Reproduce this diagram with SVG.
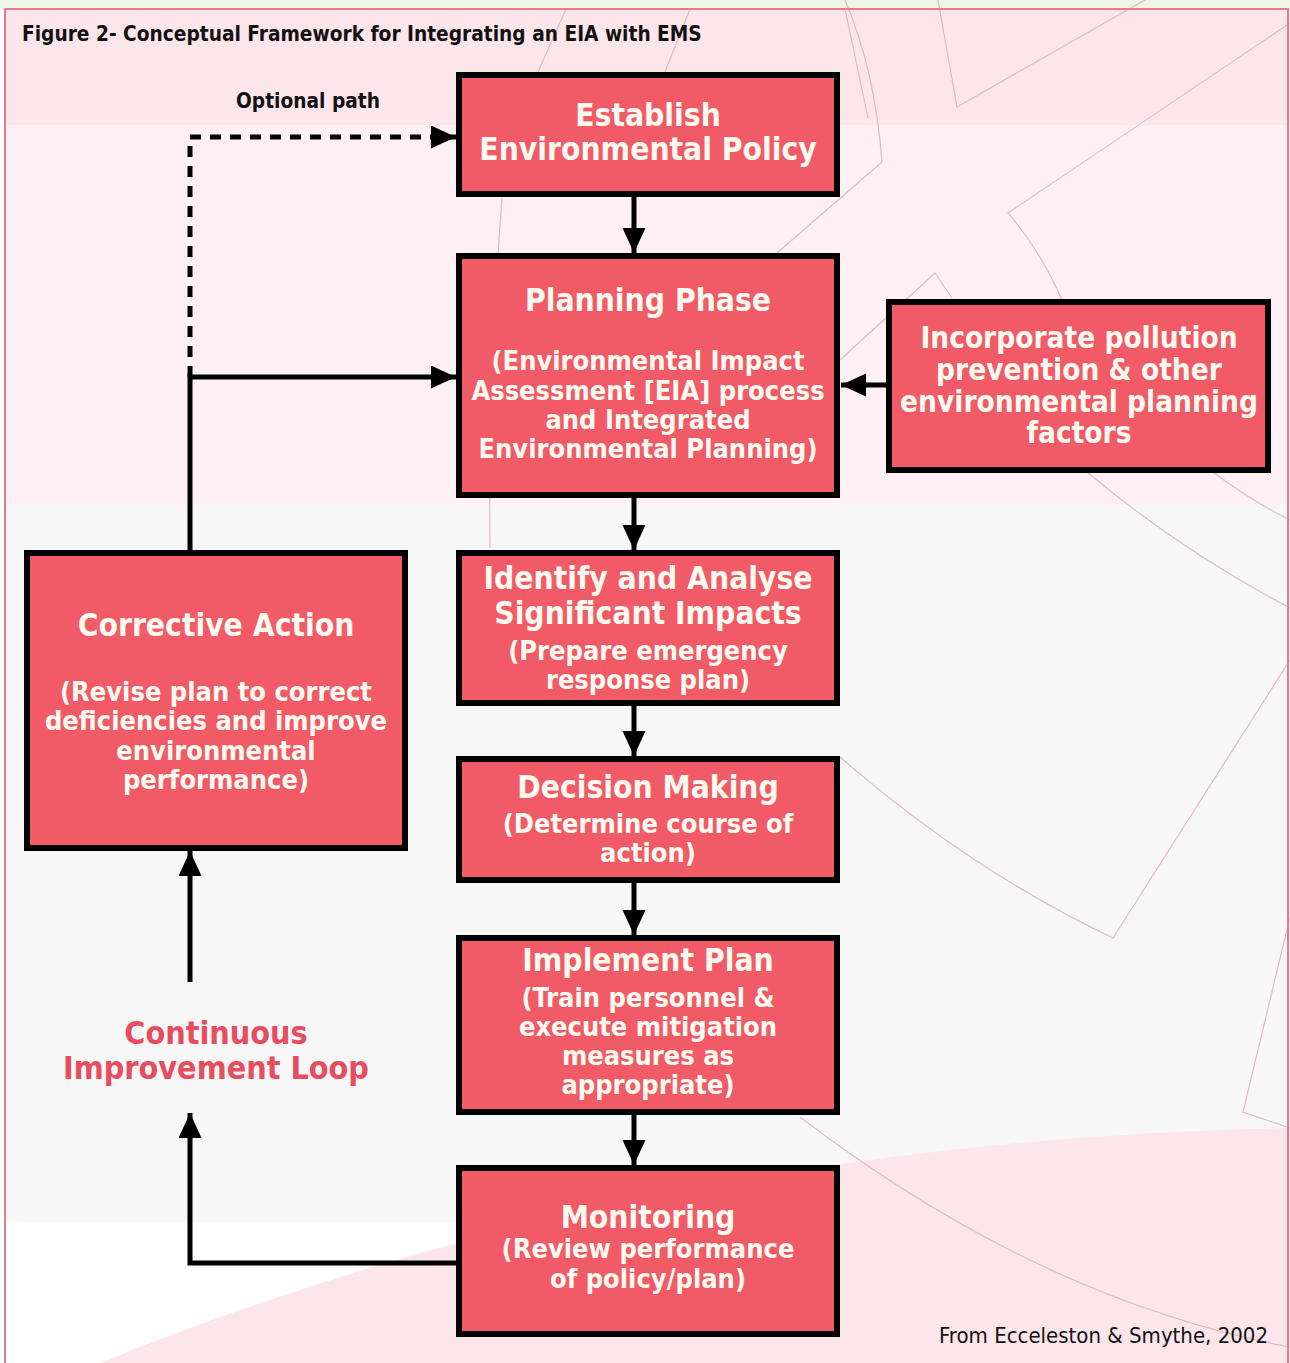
<svg xmlns="http://www.w3.org/2000/svg" width="1290" height="1363" viewBox="0 0 1290 1363">
<style>
.box{fill:#f05b67;stroke:#000;stroke-width:6}
.h{font-family:"DejaVu Sans Condensed","DejaVu Sans",sans-serif;font-weight:bold;font-size:31.5px;fill:#fffaf0;text-anchor:middle}
.i{font-size:29.5px}
.s{font-family:"DejaVu Sans Condensed","DejaVu Sans",sans-serif;font-weight:bold;font-size:27px;fill:#fffaf0;text-anchor:middle}
.deco{fill:none;stroke:#dcbcc6;stroke-width:1.2}
.con{fill:none;stroke:#000;stroke-width:5}
.lbl{font-family:"DejaVu Sans Condensed","DejaVu Sans",sans-serif;font-size:20.7px;fill:#111}
</style>
<defs>
<marker id="ah" markerUnits="userSpaceOnUse" markerWidth="26" markerHeight="24" refX="25" refY="11.5" orient="auto">
<path d="M0,0 L25,11.5 L0,23 z" fill="#000"/>
</marker>
</defs>
<g id="background">
<rect x="0" y="0" width="1290" height="1363" fill="#ffffff"/>
<rect x="0" y="0" width="1290" height="8" fill="#eef5e6"/>
<rect x="5" y="9" width="1285" height="116" fill="#fde5ec"/>
<rect x="5" y="125" width="1285" height="380" fill="#fff0f5"/>
<rect x="5" y="505" width="1285" height="717" fill="#f8f7f7"/>
<path d="M100,1363 Q650,1140 1290,1128 L1290,1363 Z" fill="#fde5ec"/>
<path class="deco" d="M845,0 Q875,70 882,162 L777,253"/>
<path class="deco" d="M938,0 L957,107 L1145,0"/>
<path class="deco" d="M1290,23 L1008,213 Q1040,250 1062,300"/>
<path class="deco" d="M840,360 L935,273 L952,298"/>
<path class="deco" d="M566,9 L538,72"/>
<path class="deco" d="M690,9 L665,72"/>
<path class="deco" d="M845,9 L868,118"/>
<path class="deco" d="M502,198 Q488,380 490,548"/>
<path class="deco" d="M1087,472 Q1180,550 1290,608"/>
<path class="deco" d="M1213,472 Q1250,500 1290,520"/>
<path class="deco" d="M840,757 Q970,870 1113,938 L1290,660"/>
<path class="deco" d="M1290,917 L1243,1112 L1290,1128"/>
<path class="deco" d="M800,1117 Q1040,1300 1290,1347"/>
<rect x="5" y="9" width="1283" height="1360" fill="none" stroke="#e87a8a" stroke-width="2"/>
</g>
<g id="title">
<text class="lbl" x="22" y="41" font-weight="bold">Figure 2- Conceptual Framework for Integrating an EIA with EMS</text>
</g>
<g id="connectors">
<line class="con" x1="634" y1="197" x2="634" y2="253" marker-end="url(#ah)"/>
<line class="con" x1="634" y1="498" x2="634" y2="550" marker-end="url(#ah)"/>
<line class="con" x1="634" y1="706" x2="634" y2="756" marker-end="url(#ah)"/>
<line class="con" x1="634" y1="883" x2="634" y2="935" marker-end="url(#ah)"/>
<line class="con" x1="634" y1="1115" x2="634" y2="1165" marker-end="url(#ah)"/>
<line class="con" x1="886" y1="385" x2="841" y2="385" marker-end="url(#ah)"/>
<polyline class="con" points="456,1263 190,1263 190,1113" marker-end="url(#ah)"/>
<line class="con" x1="190" y1="982" x2="190" y2="851" marker-end="url(#ah)"/>
<polyline class="con" points="190,550 190,377 456,377" marker-end="url(#ah)"/>
<polyline class="con" points="190,377 190,137 456,137" stroke-dasharray="11,9" marker-end="url(#ah)"/>
<text class="lbl" x="308" y="108" text-anchor="middle" font-weight="bold">Optional path</text>
</g>
<g id="establish">
<rect class="box" x="459" y="75" width="378" height="119"/>
<text class="h" x="648" y="126">Establish</text>
<text class="h" x="648" y="160">Environmental Policy</text>
</g>
<g id="planning">
<rect class="box" x="459" y="256" width="378" height="239"/>
<text class="h" x="648" y="311">Planning Phase</text>
<text class="s" x="648" y="370">(Environmental Impact</text>
<text class="s" x="648" y="400">Assessment [EIA] process</text>
<text class="s" x="648" y="429">and Integrated</text>
<text class="s" x="648" y="458">Environmental Planning)</text>
</g>
<g id="incorporate">
<rect class="box" x="889" y="302" width="379" height="168"/>
<text class="h i" x="1079" y="348">Incorporate pollution</text>
<text class="h i" x="1079" y="380">prevention &amp; other</text>
<text class="h i" x="1079" y="412">environmental planning</text>
<text class="h i" x="1079" y="443">factors</text>
</g>
<g id="identify">
<rect class="box" x="459" y="553" width="378" height="150"/>
<text class="h" x="648" y="589">Identify and Analyse</text>
<text class="h" x="648" y="624">Significant Impacts</text>
<text class="s" x="648" y="660">(Prepare emergency</text>
<text class="s" x="648" y="689">response plan)</text>
</g>
<g id="decision">
<rect class="box" x="459" y="759" width="378" height="121"/>
<text class="h" x="648" y="798">Decision Making</text>
<text class="s" x="648" y="833">(Determine course of</text>
<text class="s" x="648" y="862">action)</text>
</g>
<g id="implement">
<rect class="box" x="459" y="938" width="378" height="174"/>
<text class="h" x="648" y="971">Implement Plan</text>
<text class="s" x="648" y="1007">(Train personnel &amp;</text>
<text class="s" x="648" y="1036">execute mitigation</text>
<text class="s" x="648" y="1065">measures as</text>
<text class="s" x="648" y="1094">appropriate)</text>
</g>
<g id="monitoring">
<rect class="box" x="459" y="1168" width="378" height="166"/>
<text class="h" x="648" y="1228">Monitoring</text>
<text class="s" x="648" y="1258">(Review performance</text>
<text class="s" x="648" y="1288">of policy/plan)</text>
</g>
<g id="corrective">
<rect class="box" x="27" y="553" width="378" height="295"/>
<text class="h" x="216" y="636">Corrective Action</text>
<text class="s" x="216" y="701">(Revise plan to correct</text>
<text class="s" x="216" y="730">deficiencies and improve</text>
<text class="s" x="216" y="760">environmental</text>
<text class="s" x="216" y="789">performance)</text>
</g>
<g id="loop-label">
<text class="h" x="216" y="1044" style="fill:#e64d5e;font-size:32px">Continuous</text>
<text class="h" x="216" y="1079" style="fill:#e64d5e;font-size:32px">Improvement Loop</text>
</g>
<g id="credit">
<text class="lbl" x="1268" y="1343" text-anchor="end" style="font-size:22px">From Ecceleston &amp; Smythe, 2002</text>
</g>
</svg>
